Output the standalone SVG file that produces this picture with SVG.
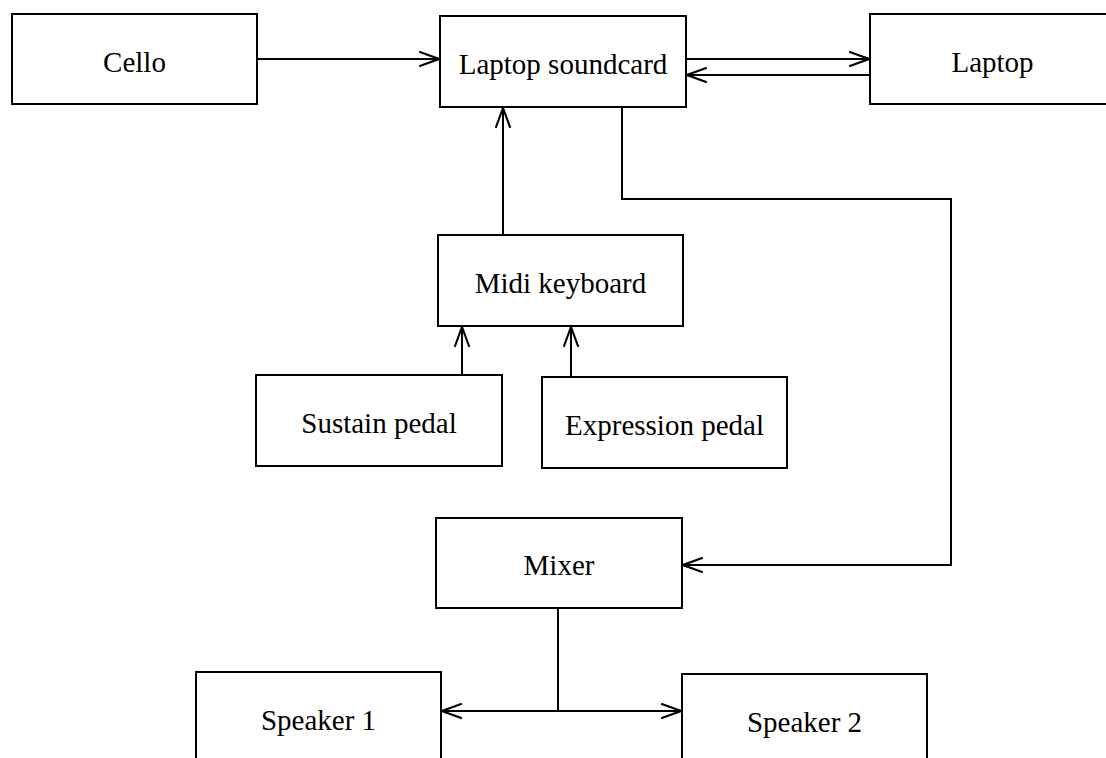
<svg xmlns="http://www.w3.org/2000/svg" width="1106" height="758" viewBox="0 0 1106 758">
<style>
.box{fill:#fff;stroke:#000;stroke-width:2}
.lbl{font-family:"Liberation Serif","Times New Roman",serif;font-size:29px;fill:#000;text-anchor:middle}
.con{fill:none;stroke:#000;stroke-width:2}
</style>
<defs>
<marker id="arr" markerUnits="userSpaceOnUse" markerWidth="24" markerHeight="20" viewBox="-21 -9 23 18" refX="0" refY="0" orient="auto">
<path d="M-19,-7 L0,0 L-19,7" fill="none" stroke="#000" stroke-width="2"/>
</marker>
</defs>
<rect width="1106" height="758" fill="#fff"/>
<g id="connectors">
<line class="con" x1="257" y1="59" x2="439" y2="59" marker-end="url(#arr)"/>
<line class="con" x1="686" y1="59" x2="869" y2="59" marker-end="url(#arr)"/>
<line class="con" x1="870" y1="75" x2="687" y2="75" marker-end="url(#arr)"/>
<line class="con" x1="503" y1="235" x2="503" y2="108" marker-end="url(#arr)"/>
<line class="con" x1="462" y1="375" x2="462" y2="327" marker-end="url(#arr)"/>
<line class="con" x1="571" y1="377" x2="571" y2="327" marker-end="url(#arr)"/>
<path class="con" d="M622,107 V199 H951 V565 H683" marker-end="url(#arr)"/>
<line class="con" x1="558" y1="608" x2="558" y2="711"/>
<line class="con" x1="558" y1="711" x2="442" y2="711" marker-end="url(#arr)"/>
<line class="con" x1="558" y1="711" x2="681" y2="711" marker-end="url(#arr)"/>
</g>
<g id="cello"><rect class="box" x="12" y="14" width="245" height="90"/><text class="lbl" x="134.5" y="71.5">Cello</text></g>
<g id="soundcard"><rect class="box" x="440" y="16" width="246" height="91"/><text class="lbl" x="563" y="74">Laptop soundcard</text></g>
<g id="laptop"><rect class="box" x="870" y="14" width="245" height="90"/><text class="lbl" x="992.5" y="71.5">Laptop</text></g>
<g id="midi"><rect class="box" x="438" y="235" width="245" height="91"/><text class="lbl" x="560.5" y="292.5">Midi keyboard</text></g>
<g id="sustain"><rect class="box" x="256" y="375" width="246" height="91"/><text class="lbl" x="379" y="432.5">Sustain pedal</text></g>
<g id="expression"><rect class="box" x="542" y="377" width="245" height="91"/><text class="lbl" x="664.5" y="434.5">Expression pedal</text></g>
<g id="mixer"><rect class="box" x="436" y="518" width="246" height="90"/><text class="lbl" x="559" y="575">Mixer</text></g>
<g id="speaker1"><rect class="box" x="196" y="672" width="245" height="91"/><text class="lbl" x="318.5" y="729.5">Speaker 1</text></g>
<g id="speaker2"><rect class="box" x="682" y="674" width="245" height="91"/><text class="lbl" x="804.5" y="731.5">Speaker 2</text></g>
</svg>
